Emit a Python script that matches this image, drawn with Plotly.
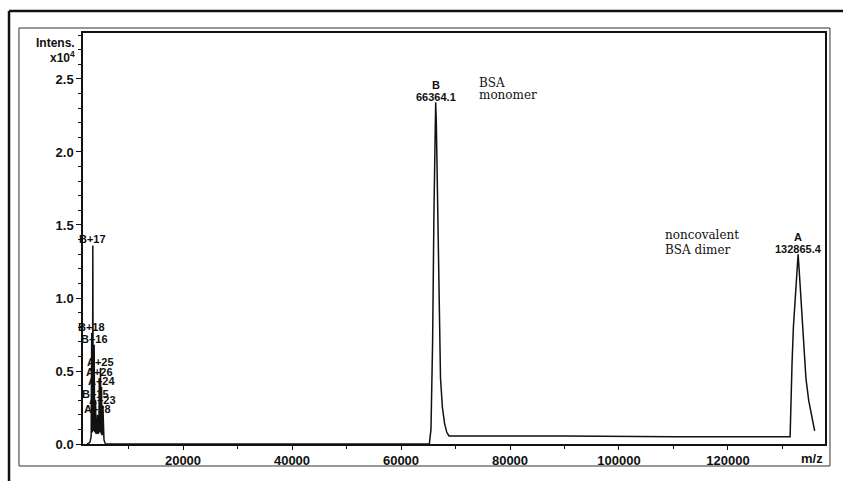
import plotly.graph_objects as go

# ---- spectrum data (m/z, intensity in units of 1e4) ----
# multiply-charged ions in the low m/z region
low_mz = [2400, 2900, 3150, 3250, 3320, 3400, 3450, 3520, 3620, 3700, 3780, 3880,
          3950, 4030, 4200, 4300, 4380, 4560, 4650, 4720, 4790, 4850, 4920, 4990,
          5050, 5120, 5220, 5300, 5380, 5500, 5650, 5800]
low_int = [0.0, 0.01, 0.05, 0.76, 0.08, 0.10, 1.36, 0.09, 0.10, 0.68, 0.08, 0.09,
           0.30, 0.07, 0.08, 0.20, 0.07, 0.08, 0.45, 0.09, 0.08, 0.52, 0.08, 0.07,
           0.39, 0.06, 0.07, 0.26, 0.05, 0.03, 0.01, 0.0]

# flat baseline and BSA monomer
mono_mz = [6000, 65200, 65500, 65800, 66050, 66250, 66364.1, 66480, 66700, 66950,
           67250, 67600, 68000, 68400, 68800, 90000, 110000]
mono_int = [0.0, 0.0, 0.10, 0.70, 1.60, 2.20, 2.34, 2.20, 1.60, 0.90,
            0.45, 0.25, 0.14, 0.08, 0.055, 0.055, 0.05]

# noncovalent BSA dimer
dimer_mz = [131400, 131550, 131750, 132000, 132300, 132650, 132865.4, 133080,
            133450, 133850, 134300, 134800, 135300, 135700, 135900]
dimer_int = [0.05, 0.30, 0.55, 0.80, 1.00, 1.18, 1.30, 1.18,
             0.95, 0.68, 0.45, 0.30, 0.20, 0.12, 0.09]

# peak labels for the low m/z charge states
charge_labels = ["B+18", "B+17", "B+16", "B+15", "A+28", "A+26", "A+25", "A+24", "A+23"]
charge_mz = [3250, 3450, 3700, 3950, 4300, 4650, 4850, 5050, 5300]
charge_int = [0.76, 1.36, 0.68, 0.30, 0.20, 0.45, 0.52, 0.39, 0.26]

# main peaks: letter, m/z, intensity
main_letters = ["B", "A"]
main_mz = [66364.1, 132865.4]
main_int = [2.34, 1.30]

y_ticks = [0.0, 0.5, 1.0, 1.5, 2.0, 2.5]
x_ticks = [20000, 40000, 60000, 80000, 100000, 120000]

mz = low_mz + mono_mz + dimer_mz
inten = low_int + mono_int + dimer_int

fig = go.Figure()
fig.add_trace(go.Scatter(x=mz, y=inten, mode="lines",
                         line=dict(color="#111111", width=1.5),
                         hoverinfo="skip", showlegend=False))

sans = "Liberation Sans, Arial, sans-serif"
serif = "DejaVu Serif, serif"
ink = "#111111"

ann = []
for name, x, y in zip(charge_labels, charge_mz, charge_int):
    ann.append(dict(x=x, y=y, xref="x", yref="y", text=name, showarrow=False,
                    xanchor="center", yanchor="bottom", yshift=-2,
                    font=dict(family=sans, size=11, color=ink, weight="bold")))
for letter, x, y in zip(main_letters, main_mz, main_int):
    ann.append(dict(x=x, y=y, xref="x", yref="y", text=f"{x:.1f}", showarrow=False,
                    xanchor="center", yanchor="bottom", yshift=-3,
                    font=dict(family=sans, size=11, color=ink, weight="bold")))
    ann.append(dict(x=x, y=y, xref="x", yref="y", text=letter, showarrow=False,
                    xanchor="center", yanchor="bottom", yshift=9,
                    font=dict(family=sans, size=11, color=ink, weight="bold")))

# descriptive notes
for txt, px, py in [("BSA", 0.531, 0.878), ("monomer", 0.531, 0.850),
                    ("noncovalent", 0.7817, 0.5085), ("BSA dimer", 0.7817, 0.472)]:
    ann.append(dict(x=px, y=py, xref="paper", yref="paper", text=txt, showarrow=False,
                    xanchor="left", yanchor="middle",
                    font=dict(family=serif, size=12, color=ink)))

ann.append(dict(x=-0.008, y=0.9757, xref="paper", yref="paper", text="Intens.",
                showarrow=False, xanchor="right", yanchor="middle",
                font=dict(family=sans, size=12, color=ink, weight="bold")))
ann.append(dict(x=-0.008, y=0.9416, xref="paper", yref="paper", text="x10<sup>4</sup>",
                showarrow=False, xanchor="right", yanchor="middle",
                font=dict(family=sans, size=12, color=ink, weight="bold")))
ann.append(dict(x=0.9825, y=-0.035, xref="paper", yref="paper", text="m/z",
                showarrow=False, xanchor="center", yanchor="middle",
                font=dict(family=sans, size=13, color=ink, weight="bold")))

shapes = [
    # inner thin frame
    dict(type="rect", xref="paper", yref="paper", x0=-0.0863, x1=1.0067,
         y0=-0.0535, y1=1.0122, line=dict(color="#333", width=1)),
    # outer heavy frame (top and left edges)
    dict(type="line", xref="paper", yref="paper", x0=-0.0997, x1=1.05,
         y0=1.0535, y1=1.0535, line=dict(color=ink, width=2.5)),
    dict(type="line", xref="paper", yref="paper", x0=-0.0997, x1=-0.0997,
         y0=1.0535, y1=-0.12, line=dict(color=ink, width=2.5)),
]

fig.update_layout(
    width=843, height=481,
    margin=dict(l=83, r=18, t=33, b=37),
    paper_bgcolor="white", plot_bgcolor="white",
    annotations=ann, shapes=shapes,
    xaxis=dict(range=[1650, 137800], tickvals=x_ticks, tickformat="d",
               ticks="outside", ticklen=4, tickwidth=1, tickcolor=ink,
               showline=True, linecolor=ink, linewidth=1.5, mirror=True,
               showgrid=False, zeroline=False,
               minor=dict(dtick=10000, tick0=0, ticks="outside", ticklen=3,
                          tickcolor=ink),
               tickfont=dict(family=sans, size=13, color=ink, weight="bold")),
    yaxis=dict(range=[0, 2.815], tickvals=y_ticks, tickformat=".1f",
               ticks="outside", ticklen=5, tickwidth=1, tickcolor=ink,
               showline=True, linecolor=ink, linewidth=1.5, mirror=True,
               showgrid=False, zeroline=False,
               minor=dict(dtick=0.1, tick0=0, ticks="outside", ticklen=3,
                          tickcolor=ink),
               tickfont=dict(family=sans, size=13, color=ink, weight="bold")),
)

fig.write_html("out.html")
